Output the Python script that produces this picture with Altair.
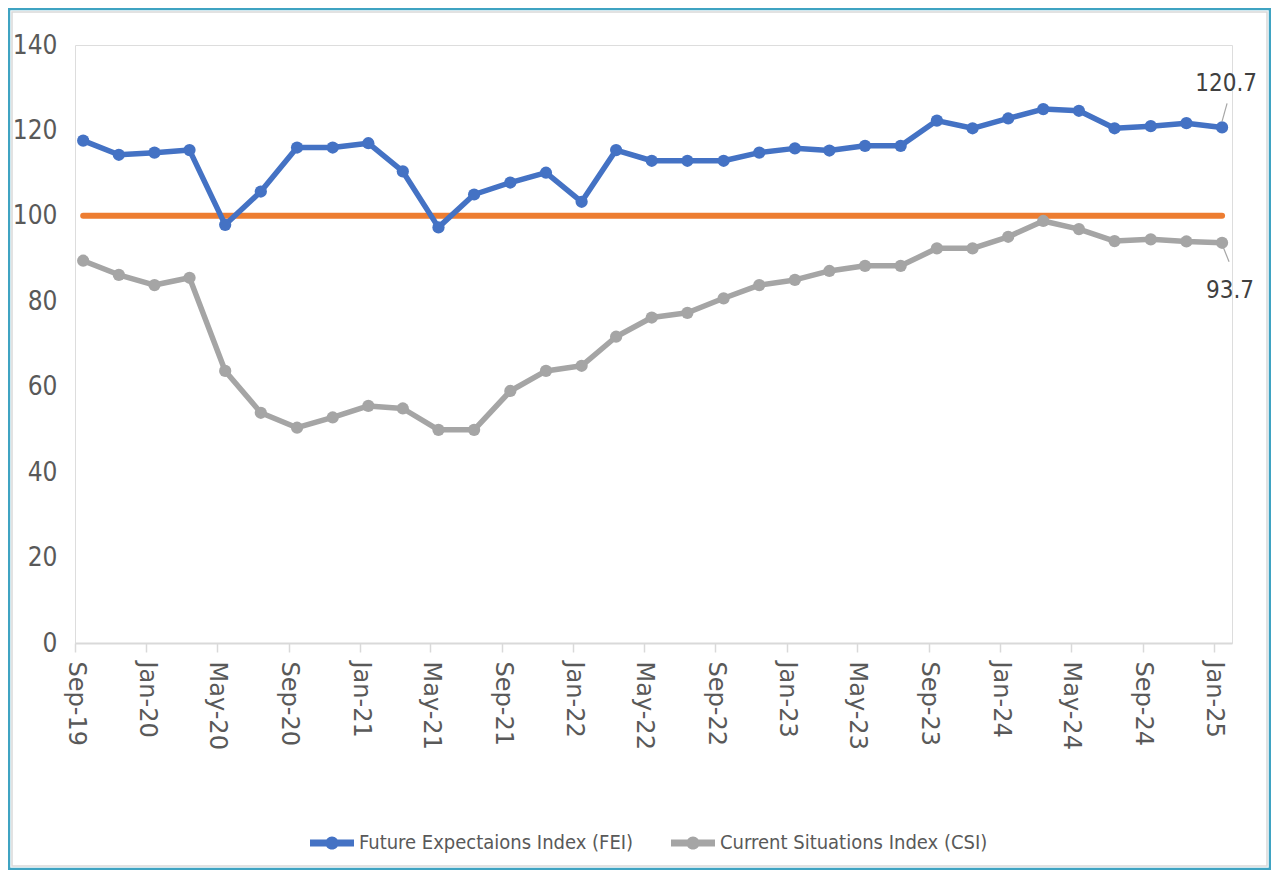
import altair as alt
import pandas as pd

# ---------------- data ----------------
months = ["2019-09", "2019-11", "2020-01", "2020-03", "2020-05", "2020-07",
          "2020-09", "2020-11", "2021-01", "2021-03", "2021-05", "2021-07",
          "2021-09", "2021-11", "2022-01", "2022-03", "2022-05", "2022-07",
          "2022-09", "2022-11", "2023-01", "2023-03", "2023-05", "2023-07",
          "2023-09", "2023-11", "2024-01", "2024-03", "2024-05", "2024-07",
          "2024-09", "2024-11", "2025-01"]

fei = [117.6, 114.3, 114.8, 115.4, 97.9, 105.7, 116.0, 116.0, 117.0, 110.4,
       97.3, 105.0, 107.8, 110.1, 103.3, 115.4, 112.9, 112.9, 112.9, 114.8,
       115.8, 115.3, 116.4, 116.4, 122.3, 120.5, 122.8, 125.0, 124.6, 120.5,
       121.0, 121.7, 120.7]

csi = [89.5, 86.2, 83.8, 85.5, 63.7, 53.9, 50.4, 52.8, 55.5, 54.9,
       49.9, 49.9, 59.0, 63.7, 64.9, 71.7, 76.2, 77.3, 80.7, 83.8,
       85.0, 87.1, 88.3, 88.3, 92.4, 92.4, 95.1, 98.8, 96.9, 94.1,
       94.5, 94.0, 93.7]

reference_level = [100, 100]

series_names = ["Future Expectaions Index (FEI)", "Current Situations Index (CSI)"]
series_colors = ["#4472C4", "#A5A5A5"]

tick_months = [(2019, 9), (2020, 1), (2020, 5), (2020, 9), (2021, 1), (2021, 5),
               (2021, 9), (2022, 1), (2022, 5), (2022, 9), (2023, 1), (2023, 5),
               (2023, 9), (2024, 1), (2024, 5), (2024, 9), (2025, 1)]
y_ticks = [0, 20, 40, 60, 80, 100, 120, 140]
end_labels = ["120.7", "93.7"]

# ---------------- tables ----------------
dates = [m + "-15" for m in months]
long_df = pd.DataFrame({
    "date": dates + dates,
    "value": fei + csi,
    "series": [series_names[0]] * len(dates) + [series_names[1]] * len(dates),
})
ref_df = pd.DataFrame({"date": [dates[0], dates[-1]], "value": reference_level})
fei_end = pd.DataFrame({"date": [dates[-1]], "value": [fei[-1]], "label": [end_labels[0]]})
csi_end = pd.DataFrame({"date": [dates[-1]], "value": [csi[-1]], "label": [end_labels[1]]})
frame_df = pd.DataFrame({"k": [0]})

NARROW = "Liberation Sans Narrow, DejaVu Sans Condensed, Roboto Condensed, Liberation Sans, sans-serif"
GRAY_TXT = "#595959"

x_enc = alt.X(
    "date:T",
    title=None,
    scale=alt.Scale(
        type="utc",
        domain=[alt.DateTime(year=2019, month=9, date=1, utc=True),
                alt.DateTime(year=2025, month=2, date=1, utc=True)],
    ),
    axis=alt.Axis(
        values=[alt.DateTime(year=y, month=m, date=1, utc=True) for y, m in tick_months],
        labelExpr="utcFormat(datum.value, '%b-%y')",
        labelAngle=90,
        labelAlign="left",
        labelBaseline="middle",
        labelFont="DejaVu Sans",
        labelFontSize=24,
        labelColor=GRAY_TXT,
        labelPadding=9,
        labelOverlap=False,
        tickSize=9,
        tickColor="#D9D9D9",
        tickWidth=1.5,
        domainColor="#D9D9D9",
        domainWidth=2,
        grid=False,
    ),
)
x2_enc = alt.X2("date:T")
y_enc = alt.Y(
    "value:Q",
    title=None,
    scale=alt.Scale(domain=[0, 140], nice=False, zero=True),
    axis=alt.Axis(
        values=y_ticks,
        grid=False,
        domain=False,
        ticks=False,
        labelFont=NARROW,
        labelFontSize=26,
        labelColor=GRAY_TXT,
        labelPadding=18,
    ),
)
y2_enc = alt.Y2("value:Q")

legend_path = ("M-1,-0.16L1,-0.16L1,0.16L-1,0.16Z "
               "M0.3,0A0.3,0.3,0,1,1,-0.3,0A0.3,0.3,0,1,1,0.3,0Z")

color_enc = alt.Color(
    "series:N",
    scale=alt.Scale(domain=series_names, range=series_colors),
    sort=series_names,
    legend=alt.Legend(
        title=None,
        orient="none",
        direction="horizontal",
        legendX=235,
        legendY=776,
        padding=0,
        symbolType=legend_path,
        symbolSize=1936,
        symbolStrokeWidth=0,
        symbolOpacity=1,
        labelFont=NARROW,
        labelFontSize=20,
        labelColor=GRAY_TXT,
        labelOffset=5,
        labelLimit=500,
        columnPadding=37,
    ),
)

frame_outer = alt.Chart(frame_df).mark_rect(
    filled=False, stroke="#3FA3C2", strokeWidth=2.5
).encode(x=alt.value(-66), x2=alt.value(1195), y=alt.value(-36), y2=alt.value(824))

frame_inner = alt.Chart(frame_df).mark_rect(
    filled=False, stroke="#D9D9D9", strokeWidth=1.5
).encode(x=alt.value(-63), x2=alt.value(1192), y=alt.value(-33), y2=alt.value(821))

ref_line = alt.Chart(ref_df).mark_line(
    color="#ED7D31", strokeWidth=6, strokeCap="round"
).encode(x=x_enc, y=y_enc)

lines = alt.Chart(long_df).mark_line(strokeWidth=5.5, strokeJoin="round").encode(
    x=x_enc, y=y_enc, color=color_enc,
)

points = alt.Chart(long_df).mark_point(filled=True, size=150, opacity=1).encode(
    x=x_enc, y=y_enc, color=color_enc,
)

fei_leader = alt.Chart(fei_end).mark_rule(
    color="#A6A6A6", strokeWidth=1.2, xOffset=0, yOffset=-6, x2Offset=5, y2Offset=-24
).encode(x=x_enc, x2=x2_enc, y=y_enc, y2=y2_enc)
csi_leader = alt.Chart(csi_end).mark_rule(
    color="#A6A6A6", strokeWidth=1.2, xOffset=1, yOffset=4, x2Offset=7, y2Offset=19
).encode(x=x_enc, x2=x2_enc, y=y_enc, y2=y2_enc)

fei_text = alt.Chart(fei_end).mark_text(
    font=NARROW, fontSize=24, color="#404040", align="center", baseline="alphabetic",
    dx=4, dy=-36
).encode(x=x_enc, y=y_enc, text="label:N")
csi_text = alt.Chart(csi_end).mark_text(
    font=NARROW, fontSize=24, color="#404040", align="center", baseline="alphabetic",
    dx=8, dy=55
).encode(x=x_enc, y=y_enc, text="label:N")

chart = alt.layer(
    frame_outer, frame_inner, ref_line, lines, points,
    fei_leader, csi_leader, fei_text, csi_text
).properties(
    width=1157,
    height=598,
    autosize=alt.AutoSizeParams(type="none"),
    padding={"left": 67, "top": 37, "right": 39, "bottom": 227},
).configure_view(stroke=None).configure(background="white")

chart.save("out.html", embed_options={"renderer": "svg", "actions": False})
